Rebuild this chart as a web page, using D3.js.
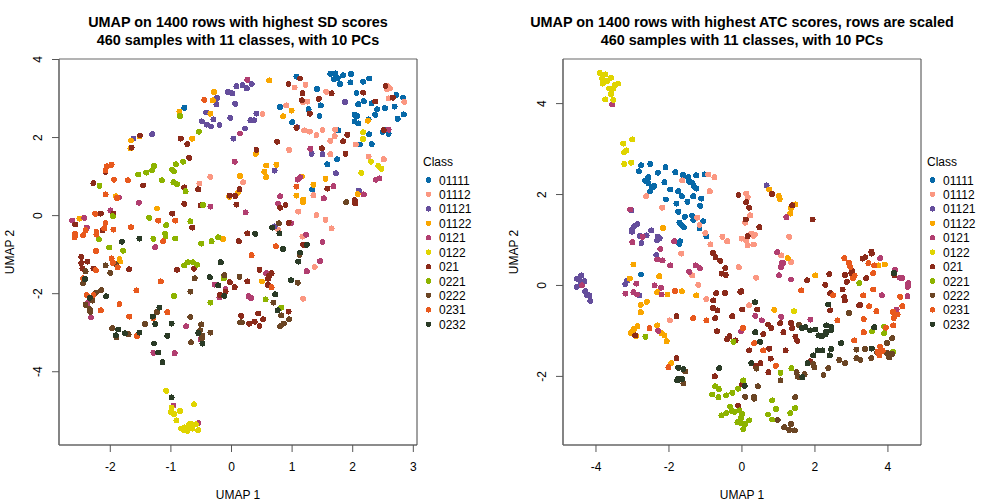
<!DOCTYPE html>
<html><head><meta charset="utf-8">
<script src="https://cdn.jsdelivr.net/npm/d3@7"></script>
<style>html,body{margin:0;padding:0;background:#fff;overflow:hidden}svg{display:block}text{font-family:"Liberation Sans",Arial,sans-serif;fill:#000}</style>
</head><body><svg id="c" width="1008" height="504"></svg>
<script>
const classes=["01111","01112","01121","01122","0121","0122","021","0221","0222","0231","0232"];
const colors=["#0769A8","#FB9781","#654E9C","#F9A600","#B13E70","#E0D400","#8B2A1A","#8DB300","#6B4524","#E8591D","#2A3B26"];
const leftTitle=["UMAP on 1400 rows with highest SD scores","460 samples with 11 classes, with 10 PCs"];
const rightTitle=["UMAP on 1400 rows with highest ATC scores, rows are scaled","460 samples with 11 classes, with 10 PCs"];
const leftXTicks=[-2,-1,0,1,2,3], leftYTicks=[-4,-2,0,2,4];
const rightXTicks=[-4,-2,0,2,4], rightYTicks=[-2,0,2,4];

const L01111=[[-.77,2.75],[1.08,3.55],[1.64,3.62],[1.72,3.63],[1.98,3.62],[1.85,3.58],[1.76,3.51],[1.70,3.48],[1.80,3.36],[1.97,3.40],[2.18,3.42],[2.28,3.50],[1.42,3.23],[2.07,3.13],[2.19,2.92],[2.10,2.84],[2.32,2.86],[1.48,2.81],[1.28,2.71],[.81,2.77],[2.41,2.71],[2.54,2.74],[2.70,2.78],[2.84,3.01],[2.73,3.08],[2.04,2.57],[2.08,2.54],[2.38,2.57],[2.85,2.58],[2.75,2.47],[1.46,2.54],[1.01,2.38],[2.04,2.40],[2.10,2.35],[2.27,2.45],[1.77,2.17],[2.28,2.07],[2.50,2.13],[2.60,2.08],[2.57,2.19],[2.13,1.81],[2.32,1.82],[1.75,1.43],[1.59,1.30],[1.34,.66]];
const L01112=[[-.34,.98],[-.52,.81],[1.23,3.34],[1.05,3.27],[1.57,3.16],[1.26,2.91],[1.19,2.89],[.91,2.81],[.52,2.59],[1.21,2.17],[1.30,2.14],[1.41,2.05],[1.51,2.18],[1.72,2.19],[1.71,2.02],[1.64,1.90],[2.06,1.81],[.96,1.67],[1.64,1.56],[2.27,1.50],[2.52,1.43],[2.57,3.32],[2.62,3.25],[2.57,3.23],[2.60,2.99],[2.86,2.90],[.20,.84],[1.36,.51],[1.11,.09],[1.41,0],[1.56,-.12],[1.66,-.34],[.78,-.38],[1.18,-.55],[1.38,-1.33],[1.19,-2.14]];
const L01121=[[.09,3.30],[-.05,3.16],[.02,3.12],[-.23,3.00],[-.24,2.84],[.07,2.85],[-.41,2.63],[-.29,2.45],[-.01,2.49],[-.48,2.40],[-.40,2.32],[-.33,2.27],[-.19,2.31],[-1.61,1.96],[-1.30,2.07],[.04,1.96],[.19,3.33],[.26,3.25],[.34,3.36],[.42,2.60],[.32,2.43],[.38,2.43],[.23,2.22],[1.88,2.90],[1.09,2.25],[1.33,1.57],[1.51,1.56],[.72,1.14],[1.73,1.07],[2.11,.63],[.72,-.29]];
const L01122=[[-.28,3.15],[-.30,2.94],[-.85,2.65],[-.34,2.60],[-1.51,2.02],[-1.65,1.91],[-1.66,1.71],[-.64,1.96],[-1.90,.48],[-2.50,-.09],[-1.22,.17],[-.13,-.61],[-.03,.47],[.11,.57],[.15,1.00],[.63,3.45],[1.0,2.68],[.86,2.53],[.41,1.57],[.58,1.27],[.75,1.29],[.55,1.11],[.58,.97],[1.56,.93],[1.17,.99],[1.36,.78],[1.08,.50],[1.19,.40],[1.19,.33],[2.09,.54],[2.26,2.42],[-1.84,-1.13],[-1.83,-1.19],[.51,-1.70]];
const L0121=[[.06,1.37],[-1.85,.45],[-1.52,.32],[-1.99,.12],[-2.42,-.07],[-2.62,-.14],[-2.38,-.32],[-1.25,-.82],[-.34,.22],[.15,2.09],[.27,3.47],[1.31,1.70],[2.60,2.19],[1.10,.91],[1.14,.97],[1.69,.74],[1.53,.43],[.81,.48],[.78,.29],[.24,.07],[2.19,.53],[2.45,.94],[2.39,.91],[.99,-.21],[1.24,-.50],[1.51,-.69],[-.27,-1.78],[-.09,-1.90],[-.19,-2.11],[-2.37,-2.26],[-2.31,-2.62],[-.74,-2.85],[-.50,-3.19],[-1.28,-3.53],[-.93,-3.54],[-.95,-4.88],[-.54,-5.33],[1.47,-1.18],[1.25,-1.44],[.58,-1.49],[.29,-2.08],[.33,-2.12]];
const L0122=[[2.18,2.12],[2.18,1.95],[2.31,1.37],[2.43,1.26],[2.48,1.19],[2.15,1.08],[-1.07,-4.50],[-.61,-4.85],[-.98,-4.93],[-.84,-5.02],[-.99,-5.05],[-.94,-5.10],[-.90,-5.26],[-.67,-5.34],[-.70,-5.38],[-.76,-5.44],[-.82,-5.47],[-.78,-5.50],[-.72,-5.53],[-.64,-5.47],[-.54,-5.51],[-.58,-5.36]];
const L021=[[-1.50,2.04],[-1.64,1.73],[-.83,1.96],[-.72,1.82],[-.69,1.47],[-2.07,1.11],[-2.27,.82],[-1.45,.76],[-.77,.71],[-.54,.66],[-.77,.29],[-.50,.25],[.07,.49],[-.02,.50],[.14,.66],[.09,.27],[-2.15,.04],[-1.94,.04],[-.97,.04],[-2.57,-.24],[-.64,-.32],[-2.12,-.39],[.13,-.67],[.95,3.36],[1.14,3.50],[1.18,3.12],[1.66,3.12],[1.17,2.94],[1.45,2.98],[1.30,2.60],[2.18,3.14],[2.38,2.91],[2.67,3.01],[2.55,3.31],[1.08,2.24],[.76,1.88],[1.92,2.06],[1.85,1.89],[1.50,1.71],[1.89,1.57],[.42,1.67],[1.59,.68],[2.04,.38],[2.05,.30],[.90,.26],[.81,.19],[.95,-.20],[.27,-.47],[1.19,-.76],[2.52,2.18],[-2.47,-1.07],[-2.47,-1.23],[-2.37,-1.19],[-2.45,-1.37],[-2.27,-1.37],[-1.68,-1.39],[-.89,-1.40],[-.61,-1.37],[-.02,-1.72],[.06,-1.85],[-.18,-2.05],[-.09,-1.96],[.67,-1.49],[.63,-1.56],[.61,-1.63],[.47,-1.40],[.27,-1.70],[.61,-1.79],[.45,-2.52],[.95,-2.47],[.17,-2.58],[.53,-2.67],[.30,-2.78],[.39,-2.73],[.47,-2.84]];
const L0221=[[-.84,2.54],[-.53,2.14],[-.91,1.30],[-.79,1.37],[-1.27,1.26],[-1.30,1.15],[-1.40,1.09],[-1.53,1.04],[-.97,1.16],[-.94,1.12],[-2.17,.75],[-1.14,.89],[-.95,.84],[-.89,.79],[-.75,.61],[-.46,.26],[-1.95,-.03],[-1.35,-.07],[-.67,-.16],[-1.07,-.26],[-1.09,-.47],[-1.08,-.54],[-1.28,-.61],[-.92,-.60],[-2.18,-.62],[-2.01,-.83],[-1.78,-.91],[-.49,-.73],[-.32,-.67],[-.21,-.57],[-.77,-1.29],[-.71,-1.21],[-.63,-1.21],[-.56,-1.27],[-.94,-2.07],[-.34,-2.24],[-.12,-1.62],[.57,-2.16],[.83,-2.37]];
const L0222=[[1.90,.33],[.79,-.21],[-2.40,-1.44],[-2.07,-1.29],[-1.90,-1.26],[-1.99,-1.48],[-.60,-1.62],[-.11,-1.54],[.14,-1.58],[-2.44,-1.75],[-2.14,-1.92],[-2.23,-1.99],[-2.29,-2.19],[-2.40,-2.30],[-2.33,-2.41],[-2.32,-2.48],[-1.22,-2.48],[-.67,-1.96],[-.67,-2.61],[-1.42,-2.79],[-1.96,-2.90],[-1.89,-3.13],[-1.69,-3.05],[-.49,-2.80],[-.51,-2.95],[-.34,-3.01],[-.47,-3.09],[-.48,-3.16],[-.66,-3.26],[1.13,-1.02],[1.10,-1.73],[.70,-2.24],[.83,-2.57],[.96,-2.67],[.15,-2.75],[.18,-2.75],[.87,-2.78],[.81,-2.85]];
const L0231=[[-.44,2.95],[-1.97,1.29],[-2.05,1.25],[-2.07,1.15],[-1.93,.91],[-1.70,.89],[-2.07,.53],[-1.88,.44],[-2.24,.03],[-2.07,-.20],[-1.20,-.14],[-.92,-.14],[-1.65,-.31],[-2.09,-.34],[-1.94,-.37],[-2.40,-.39],[-2.57,-.48],[-2.58,-.57],[-2.44,-.52],[-2.22,-.43],[-2.22,-.50],[-1.12,-.67],[1.08,.73],[.74,-.80],[-2.23,-.92],[-1.97,-1.11],[-1.95,-1.22],[-1.87,-1.34],[-2.23,-1.41],[-2.44,-1.62],[-1.16,-1.70],[-1.56,-1.93],[-2.38,-2.05],[-2.27,-2.05],[-1.84,-2.28],[-2.15,-2.44],[-1.68,-2.60],[-1.05,-2.49],[-1.28,-2.64],[-1.55,-3.10],[.34,-1.03],[.67,-1.85]];
const L0232=[[.40,-.48],[.68,-.32],[.80,-.47],[.86,-.87],[1.25,-.76],[-1.80,-.68],[-1.51,-.60],[-.17,-1.21],[-.35,-1.59],[-.21,-1.80],[-2.41,-1.64],[-2.06,-2.08],[-2.33,-2.12],[-1.18,-2.37],[-1.29,-2.60],[-1.25,-2.79],[-.98,-2.78],[-1.86,-2.93],[-1.90,-3.08],[-1.75,-3.03],[-1.51,-3.01],[-1.05,-3.09],[-.54,-3.02],[-.47,-3.29],[-1.27,-3.29],[-1.20,-3.52],[-1.13,-3.77],[-.11,-2.07],[-.98,-4.67],[1.14,-.96],[1.11,-1.19],[.99,-1.67],[.73,-2.03],[.77,-2.44]];

const R01111=[[-2.75,2.63],[-2.50,2.66],[-2.08,2.59],[-2.81,2.50],[-2.29,2.47],[-1.81,2.48],[-1.60,2.42],[-1.46,2.37],[-1.24,2.41],[-1.01,2.43],[-2.64,2.29],[-2.55,2.37],[-2.58,2.32],[-2.55,2.24],[-2.11,2.26],[-1.43,2.27],[-1.35,2.25],[-1.31,2.18],[-1.24,2.12],[-2.39,2.18],[-2.45,2.14],[-2.50,2.06],[-1.95,2.10],[-1.73,2.06],[-1.63,1.95],[-1.32,1.95],[-1.10,1.90],[-2.07,1.88],[-1.78,1.79],[-1.48,1.83],[-1.13,1.74],[-1.73,1.61],[-1.55,1.50],[-1.35,1.52],[-1.32,1.43],[-1.05,1.40],[-1.70,1.37],[-1.65,1.32],[-1.58,1.27],[-1.15,1.25],[-.96,1.07],[-1.68,.96],[-1.70,.90],[-2.75,.23]];
const R01112=[[-.91,2.43],[-.74,2.37],[-1.62,2.30],[-.87,2.06],[-2.61,1.95],[-2.17,1.70],[-1.21,1.48],[-1.15,1.32],[-.99,1.14],[-.52,1.06],[-.39,.96],[-.85,.89],[-1.65,.69],[-1.35,.21],[-1.18,0],[-.96,-.31],[-1.96,-.78],[-.07,.39],[.13,2.01],[.17,1.93],[.24,1.53],[.10,1.37],[.27,1.13],[.37,1.11],[.32,1.08],[.01,1.02],[.13,.97],[.17,.87],[.34,.89],[1.31,1.06],[1.09,.65],[1.36,.50],[.40,.16],[.21,-.45]];
const R01121=[[-3.02,1.64],[-2.85,1.34],[-2.94,1.29],[-2.99,1.22],[-3.0,1.17],[-2.47,1.20],[-2.79,1.08],[-2.60,1.09],[-2.30,1.06],[-2.24,1.03],[-2.31,.98],[-2.74,.92],[-2.33,.66],[-4.39,.21],[-4.51,.14],[-4.44,.12],[-4.30,.08],[-4.41,.04],[-4.51,-.04],[-4.28,-.14],[-4.23,-.22],[-4.17,-.23],[-4.14,-.35],[-3.13,.10],[-3.18,.02],[-2.80,-.23],[.69,2.19]];
const R01122=[[-2.15,1.25],[-2.96,.45],[-3.06,.14],[-2.25,.19],[-2.31,-.16],[-2.03,-.21],[-1.63,-.14],[-1.24,-.23],[-2.59,-.37],[-2.76,-.44],[-2.76,-.60],[-2.31,-.89],[-2.85,-.91],[-2.94,-.96],[-2.98,-1.02],[-3.03,-1.06],[-2.89,-1.12],[-2.19,-1.06],[-2.11,-1.11],[-2.05,-1.24],[-1.92,-1.72],[.76,2.10],[1.02,1.96],[1.05,1.89],[1.48,1.77],[1.36,1.69],[1.34,1.57],[1.27,.59],[2.02,.21],[3.75,.43],[3.93,.45],[.90,-.55]];
const R0121=[[-3.54,3.97],[-3.05,1.66],[-2.99,.94],[-2.71,1.06],[-1.84,.96],[-2.22,.79],[-4.37,-.01],[-2.88,.03],[-3.18,-.19],[-2.96,-.16],[-2.86,-.21],[-2.38,-.01],[-2.20,-.06],[-2.19,-.21],[-2.31,.56],[-2.16,.54],[-1.95,.43],[-1.43,.29],[-1.25,.43],[-1.14,.37],[-2.28,-1.01],[1.23,1.49],[.98,.72],[1.10,.48],[1.15,.48],[1.08,.39],[1.03,.21],[1.36,.12],[3.80,.59],[4.21,.33],[4.34,.16],[4.41,.15],[4.57,.04],[4.56,-.04],[3.85,-.23],[4.55,-.25],[.38,-.68],[.56,-.78],[1.09,-.70],[1.89,-.76],[-.01,-1.02],[4.25,-.54]];
const R0122=[[-3.88,4.66],[-3.80,4.62],[-3.73,4.63],[-3.82,4.54],[-3.67,4.49],[-3.76,4.49],[-3.80,4.43],[-3.57,4.56],[-3.38,4.43],[-3.46,4.40],[-3.51,4.32],[-3.62,4.32],[-3.57,4.20],[-3.73,4.08],[-3.51,4.07],[-2.99,3.20],[-3.24,3.11],[-3.15,2.96],[-3.21,2.92],[-3.21,2.66],[-3.02,2.69],[1.44,-.58]];
const R021=[[-.78,.70],[-.71,.61],[-.58,.53],[-.44,.37],[-.54,.25],[-.43,.22],[-.69,-.18],[-.45,-.18],[-.77,-.34],[-.78,-.51],[-.66,-.56],[-.72,-.73],[-.25,-.69],[-1.78,-.69],[-.67,-1.02],[-.33,-1.13],[-.39,-1.19],[-.16,-1.22],[-2.91,-1.11],[-1.78,-1.61],[-.73,-2.01],[-.03,-.15],[-.08,1.98],[.84,2.0],[.13,1.82],[.21,1.70],[.12,1.44],[.49,1.27],[.17,1.07],[1.39,1.75],[1.95,1.44],[3.56,.73],[3.57,.69],[3.39,.61],[3.32,.58],[3.03,.31],[2.41,.24],[2.84,.22],[3.01,.26],[1.80,.10],[3.42,.15],[2.30,0],[2.89,.07],[2.77,-.10],[0,-.14],[2.43,-.18],[2.82,-.27],[4.19,.21],[2.83,-.34],[3.23,-.45],[3.26,-.44],[2.43,-.56],[.02,-.54],[.43,-.54],[.73,-.87],[.82,-.95],[1.06,-.84],[1.36,-.84],[1.39,-.95],[1.15,-1.04],[.60,-1.08],[1.48,-1.14],[1.53,-1.23],[.21,-1.44],[.76,-1.40],[1.21,-1.44],[.80,-1.62],[.52,-1.72],[.39,-1.78],[1.88,-1.68],[.74,-1.92],[.02,-2.18],[-.09,-2.66]];
const R0221=[[-2.63,-1.14],[-.22,-1.25],[-.72,-2.23],[-.62,-2.29],[-.80,-2.41],[-.63,-2.47],[-.42,-2.43],[-.25,-2.37],[-.42,-2.82],[-.55,-2.87],[3.23,.04],[3.91,-.92],[3.58,-1.02],[3.91,-1.06],[4.16,-1.47],[1.07,-1.93],[1.37,-1.83],[.05,-2.10],[-.09,-2.28],[.84,-2.54],[.95,-2.73],[1.47,-2.71],[1.34,-2.82],[.73,-2.85],[.84,-2.96],[.21,-2.98],[-.31,-2.68],[-.27,-2.77],[-.18,-2.79],[-.06,-2.76],[.02,-2.84],[-.01,-2.92],[-.11,-3.02],[-.01,-3.04],[.10,-3.06],[.05,-3.17]];
const R0222=[[-1.54,-1.90],[-1.59,-2.16],[2.95,-.62],[1.58,-.88],[4.13,-1.17],[3.99,-1.28],[3.15,-1.42],[3.39,-1.41],[3.72,-1.49],[3.98,-1.49],[4.13,-1.52],[4.05,-1.59],[3.15,-1.61],[3.26,-1.65],[3.56,-1.61],[2.68,-1.65],[2.84,-1.72],[1.97,-1.74],[2.0,-1.81],[2.38,-1.83],[.41,-1.84],[1.51,-1.92],[1.55,-2.02],[1.73,-1.96],[2.25,-1.98],[1.07,-2.10],[.45,-2.23],[.10,-2.46],[.35,-2.46],[.35,-2.50],[1.47,-2.47],[.99,-2.97],[1.17,-3.13],[1.36,-3.06],[1.31,-3.19],[1.46,-3.20]];
const R0231=[[-1.82,-.13],[-2.52,-.95],[-1.32,-.73],[-.96,-.78],[-2.0,-1.81],[2.82,.59],[2.94,.49],[2.98,.40],[3.48,.48],[3.64,.43],[3.06,.15],[3.10,.20],[3.61,.26],[1.64,-.12],[2.51,-.23],[3.34,-.23],[3.61,-.10],[4.35,-.26],[3.50,-.47],[3.70,-.58],[4.41,-.47],[4.15,-.59],[4.22,-.65],[4.28,-.65],[4.17,-.73],[2.63,-.78],[3.35,-.75],[4.16,-.89],[3.96,-.94],[3.35,-1.04],[3.09,-1.22],[.04,-.95],[.35,-1.28],[.60,-1.44],[.94,-1.78],[3.80,-1.36],[3.87,-1.45],[3.73,-1.47],[3.78,-1.55]];
const R0232=[[-1.73,-1.82],[-1.59,-1.85],[-.61,-1.83],[-1.73,-2.06],[-1.62,-2.07],[-1.76,-2.10],[4.18,.26],[.37,-.38],[2.38,-.43],[.38,-1.04],[.51,-1.25],[1.66,-.95],[1.75,-.93],[1.88,-1.0],[2.02,-.98],[2.11,-1.11],[2.20,-1.13],[2.32,-.89],[2.46,-.92],[2.46,-.99],[2.32,-1.03],[2.31,-1.08],[2.73,-1.28],[2.46,-1.41],[2.09,-1.44],[2.22,-1.44],[1.97,-1.55],[2.42,-1.55],[3.57,-1.40],[3.64,-.93],[.27,-1.72],[1.81,-1.72],[1.67,-2.03],[.09,-2.22]];

const leftSeries=[L01111,L01112,L01121,L01122,L0121,L0122,L021,L0221,L0222,L0231,L0232];
const rightSeries=[R01111,R01112,R01121,R01122,R0121,R0122,R021,R0221,R0222,R0231,R0232];

const svg=d3.select("#c");
function panel(o){
  const g=svg.append("g");
  const x=d3.scaleLinear().domain(o.xd).range([o.l,o.r]);
  const y=d3.scaleLinear().domain(o.yd).range([o.b,o.t]);
  o.series.forEach((pts,i)=>{
    g.append("g").selectAll("circle").data(pts).join("circle")
      .attr("cx",d=>x(d[0])).attr("cy",d=>y(d[1])).attr("r",3)
      .attr("fill",colors[i]).attr("shape-rendering","crispEdges");
  });
  [[o.l,o.t,o.r,o.t,"#9a9a9a",1.6],[o.l,o.t,o.l,o.b,"#666",1.6],[o.l,o.b,o.r,o.b,"#666",1.6],[o.r,o.t,o.r,o.b,"#444",1]].forEach(e=>{
    g.append("line").attr("x1",e[0]).attr("y1",e[1]).attr("x2",e[2]).attr("y2",e[3]).attr("stroke",e[4]).attr("stroke-width",e[5]);
  });
  const ax=d3.axisBottom(x).tickValues(o.xt).tickSize(7).tickSizeOuter(0).tickPadding(10).tickFormat(d=>String(d).replace("\u2212","-"));
  const gx=g.append("g").attr("transform",`translate(0,${o.b})`).call(ax);
  gx.select(".domain").remove();
  gx.selectAll("line").attr("stroke","#555").attr("stroke-width",1);
  gx.selectAll("text").attr("font-size",12).attr("font-family","Liberation Sans").attr("fill","#000");
  const ay=d3.axisLeft(y).tickValues(o.yt).tickSize(7).tickFormat(d=>String(d));
  const gy=g.append("g").attr("transform",`translate(${o.l},0)`).call(ay);
  gy.select(".domain").remove();
  gy.selectAll("line").attr("stroke","#555").attr("stroke-width",1);
  gy.selectAll("text").attr("font-size",12).attr("font-family","Liberation Sans").attr("fill","#000")
    .attr("text-anchor","middle").attr("dy",0).attr("x",0)
    .attr("transform","translate(-17,0) rotate(-90)");
  o.title.forEach((t,i)=>{
    g.append("text").attr("x",(o.l+o.r)/2).attr("y",27+i*17.5).attr("text-anchor","middle")
      .attr("font-size",14.4).attr("font-weight","bold").text(t);
  });
  g.append("text").attr("x",(o.l+o.r)/2).attr("y",499).attr("text-anchor","middle").attr("font-size",12).text("UMAP 1");
  g.append("text").attr("transform",`translate(${o.l-45},${(o.t+o.b)/2}) rotate(-90)`).attr("text-anchor","middle").attr("font-size",12).text("UMAP 2");
  const lg=g.append("g");
  lg.append("text").attr("x",o.r+6).attr("y",166).attr("font-size",12).text("Class");
  classes.forEach((c,i)=>{
    const yy=180+i*14.43;
    lg.append("circle").attr("cx",o.r+11.5).attr("cy",yy).attr("r",2.7).attr("fill",colors[i]).attr("shape-rendering","crispEdges");
    lg.append("text").attr("x",o.r+22).attr("y",yy+4.5).attr("font-size",12).text(c);
  });
}
panel({l:59,r:417,t:59,b:445,xd:[-2.838,3.069],yd:[-5.89,4],xt:leftXTicks,yt:leftYTicks,series:leftSeries,title:leftTitle});
panel({l:563,r:921,t:59,b:445,xd:[-4.89,4.92],yd:[-3.52,4.97],xt:rightXTicks,yt:rightYTicks,series:rightSeries,title:rightTitle});
</script></body></html>
